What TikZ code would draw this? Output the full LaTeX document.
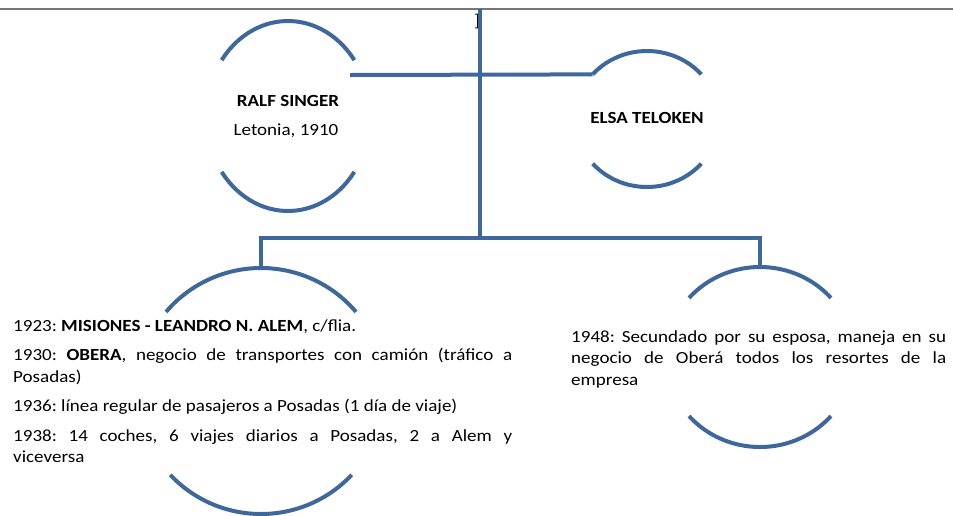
\documentclass[tikz,border=0pt]{standalone}
\usepackage{fontspec}
\setmainfont{Carlito}[FakeStretch=1.12]
\usetikzlibrary{positioning}
\frenchspacing

\definecolor{linkblue}{RGB}{62,104,156}
\definecolor{rulegray}{RGB}{118,118,118}

\begin{document}
\begin{tikzpicture}[x=1pt,y=1pt,
  lnk/.style={draw=linkblue,line width=4pt},
  nm/.style={font=\fontsize{17}{21}\selectfont\bfseries,inner sep=0pt},
  plain/.style={font=\fontsize{17}{21}\selectfont,inner sep=0pt},
  txt/.style={font=\fontsize{17}{21.5}\selectfont,inner sep=0pt,align=justify}]
  \useasboundingbox (0,0) rectangle (953,-515);
  % ---------- top rule
  \coordinate (ruleL) at (0,-9);
  \coordinate (ruleR) at (953,-9);
  \draw[rulegray,line width=1.4pt] (ruleL) -- (ruleR);
  \node[plain] (mark) at (477,-22) {]};
  % ---------- half circles
  \foreach \n/\x/\y/\rx/\ry/\a/\b in {ralf/288/-116/82/95/36/36,elsa/647/-119/72/68/41/41,
      hijo/261/-391/124/123/40/43,obra/760/-357/94/90/41/41} {
    \coordinate (\n) at (\x,\y);
    \draw[lnk] ([shift={({\rx*cos(\a)},{\ry*sin(\a)})}]\n) arc[start angle=\a,end angle=180-\a,x radius=\rx,y radius=\ry];
    \draw[lnk] ([shift={({-\rx*cos(\b)},{-\ry*sin(\b)})}]\n) arc[start angle=180+\b,end angle=360-\b,x radius=\rx,y radius=\ry];
  }
  % ---------- links
  \coordinate (top) at (480,-9);
  \coordinate (fork) at (480,-238);
  \coordinate (ralfR) at (350,-75);
  \coordinate (elsaL) at ([shift={({-72*cos(41)},{68*sin(41)})}]elsa);
  \coordinate (hijoT) at ([shift={(0,123)}]hijo);
  \coordinate (obraT) at ([shift={(0,90)}]obra);
  \draw[lnk] (top) -- (fork);
  \draw[lnk] (ralfR) -- (elsaL);
  \draw[lnk] (hijoT) |- (fork) -| (obraT);
  % ---------- texts
  \node[nm] (ralfN) at (288,-101) {RALF SINGER};
  \node[plain] (ralfL) at (286,-131) {Letonia, 1910};
  \node[nm] (elsaN) at (647,-118) {ELSA TELOKEN};
  \node[txt,anchor=north west,text width=499pt] (hijoX) at (13,-319) {\parindent=0pt\parskip=8pt
    1923: \textbf{MISIONES - LEANDRO N. ALEM}, c/flia.\par
    1930: \textbf{OBERA}, negocio de transportes con camión (tráfico a\linebreak Posadas)\par
    1936: línea regular de pasajeros a Posadas (1 día de viaje)\par
    1938: 14 coches, 6 viajes diarios a Posadas, 2 a Alem y\linebreak viceversa};
  \node[txt,anchor=north west,text width=375pt] (obraX) at (571,-330) {\parindent=0pt
    1948: Secundado por su esposa, maneja en su\linebreak negocio de Oberá todos los resortes de la\linebreak empresa};
\end{tikzpicture}
\end{document}
